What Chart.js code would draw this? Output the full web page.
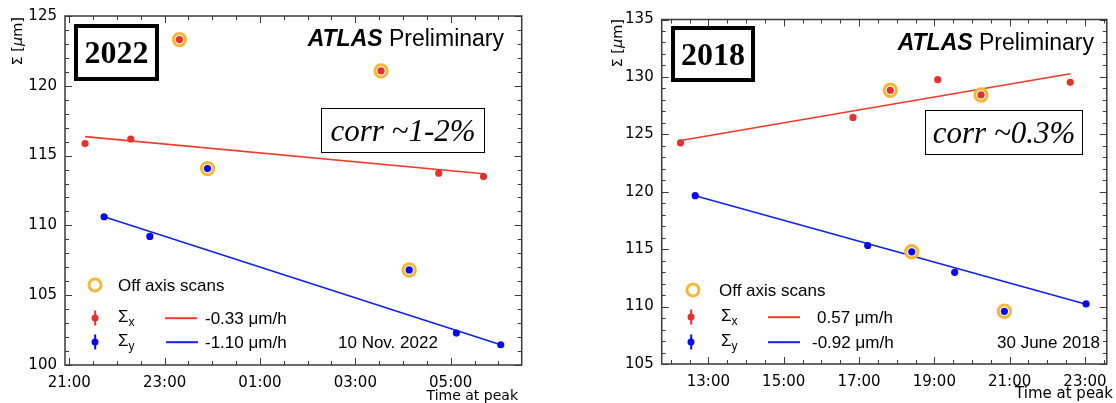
<!DOCTYPE html>
<html>
<head>
<meta charset="utf-8">
<script src="https://cdn.jsdelivr.net/npm/chart.js@4.4.1/dist/chart.umd.min.js"></script>
<style>
body { margin:0; background:#fff; width:1116px; height:403px; overflow:hidden; position:relative; font-family:"Liberation Sans", Arial, sans-serif; }
canvas { position:absolute; top:0; }
.t { position:absolute; white-space:nowrap; line-height:1; color:#000; transform:translateY(-50%); }
.r { transform:translate(-100%,-50%); }
.atlas { font-size:23px; }
.atlas b { font-style:italic; }
.ylab { position:absolute; white-space:nowrap; line-height:1; font-family:"DejaVu Sans", sans-serif; font-size:14.5px; transform-origin:0 0; transform:rotate(-90deg) translate(-100%,-50%); }
.xlab { font-family:"DejaVu Sans", sans-serif; font-size:14px; }
.year { position:absolute; box-sizing:border-box; border:4px solid #000; display:flex; align-items:center; justify-content:center; font-family:"Liberation Serif", serif; font-weight:bold; font-size:32px; }
.corr { position:absolute; box-sizing:border-box; border:1.5px solid #000; display:flex; align-items:center; justify-content:center; font-family:"Liberation Serif", serif; font-style:italic; font-size:31px; }
.leg { font-size:17px; }
.leg sub { font-size:12px; vertical-align:-4px; }
.ring { position:absolute; width:15px; height:15px; box-sizing:border-box; border:3px solid #f4b73a; border-radius:50%; transform:translate(-50%,-50%); }
.dot { position:absolute; width:7px; height:7px; border-radius:50%; transform:translate(-50%,-50%); }
.bar { position:absolute; width:1.6px; height:15px; transform:translate(-50%,-50%); }
.ln { position:absolute; height:1.6px; transform:translateY(-50%); }
</style>
</head>
<body>
<canvas id="c22" width="560" height="403" style="left:0"></canvas>
<canvas id="c18" width="556" height="403" style="left:560px"></canvas>

<!-- panneau 2022 -->
<div class="ylab" style="left:17px;top:17px">Σ [<i>μ</i>m]</div>
<div class="t r atlas" style="left:504px;top:38px"><b>ATLAS</b> Preliminary</div>
<div class="year" style="left:74px;top:24px;width:85px;height:57px">2022</div>
<div class="corr" style="left:321px;top:108px;width:164px;height:45px">corr ~1-2%</div>
<div class="ring" style="left:95px;top:285px"></div>
<div class="t leg" style="left:118px;top:285px">Off axis scans</div>
<div class="bar" style="left:95px;top:318px;background:#e8302a"></div>
<div class="dot" style="left:95px;top:318px;background:#e8302a"></div>
<div class="t leg" style="left:118px;top:318px">Σ<sub>x</sub></div>
<div class="ln" style="left:165px;top:318px;width:32px;background:#f03a2a"></div>
<div class="t leg" style="left:205px;top:318px">-0.33 μm/h</div>
<div class="bar" style="left:95px;top:342px;background:#0a0af0"></div>
<div class="dot" style="left:95px;top:342px;background:#0a0af0"></div>
<div class="t leg" style="left:118px;top:342px">Σ<sub>y</sub></div>
<div class="ln" style="left:166px;top:342px;width:32px;background:#1020f0"></div>
<div class="t leg" style="left:205px;top:342px">-1.10 μm/h</div>
<div class="t leg" style="left:338px;top:342px">10 Nov. 2022</div>
<div class="t r xlab" style="left:518px;top:395px">Time at peak</div>

<!-- panneau 2018 -->
<div class="ylab" style="left:617px;top:19px">Σ [<i>μ</i>m]</div>
<div class="t r atlas" style="left:1094px;top:42px"><b>ATLAS</b> Preliminary</div>
<div class="year" style="left:671px;top:26px;width:84px;height:56px">2018</div>
<div class="corr" style="left:925px;top:110px;width:158px;height:45px">corr ~0.3%</div>
<div class="ring" style="left:693px;top:290px"></div>
<div class="t leg" style="left:719px;top:290px">Off axis scans</div>
<div class="bar" style="left:691px;top:317px;background:#e8302a"></div>
<div class="dot" style="left:691px;top:317px;background:#e8302a"></div>
<div class="t leg" style="left:721px;top:317px">Σ<sub>x</sub></div>
<div class="ln" style="left:768px;top:317px;width:32px;background:#f03a2a"></div>
<div class="t leg" style="left:817px;top:317px">0.57 μm/h</div>
<div class="bar" style="left:691px;top:342px;background:#0a0af0"></div>
<div class="dot" style="left:691px;top:342px;background:#0a0af0"></div>
<div class="t leg" style="left:721px;top:342px">Σ<sub>y</sub></div>
<div class="ln" style="left:768px;top:342px;width:32px;background:#1020f0"></div>
<div class="t leg" style="left:812px;top:342px">-0.92 μm/h</div>
<div class="t leg" style="left:997px;top:342px">30 June 2018</div>
<div class="t r xlab" style="left:1113px;top:393px;font-size:15px">Time at peak</div>

<script>
// donnees 2022 (heures depuis minuit du 10 nov., 25 = 01:00)
const timeX22 = [21.33, 22.29, 23.31, 27.54, 28.75, 29.69];
const sigmaX22 = [115.86, 116.19, 123.31, 121.07, 113.74, 113.50];
const offX22 = [false, false, true, true, false, false];
const timeY22 = [21.73, 22.69, 23.90, 28.13, 29.12, 30.05];
const sigmaY22 = [110.62, 109.21, 114.07, 106.81, 102.29, 101.45];
const offY22 = [false, false, true, true, false, false];
const fitTimeX22 = [21.33, 29.69];
const fitX22 = [116.36, 113.70];
const fitTimeY22 = [21.73, 30.05];
const fitY22 = [110.62, 101.45];
const xTicks22 = [21, 23, 25, 27, 29];
const xLabels22 = ['21:00', '23:00', '01:00', '03:00', '05:00'];
const yTicks22 = [100, 105, 110, 115, 120, 125];

// donnees 2018
const timeX18 = [12.26, 16.84, 17.83, 19.09, 20.24, 22.61];
const sigmaX18 = [124.26, 126.47, 128.84, 129.76, 128.43, 129.53];
const offX18 = [false, false, true, false, true, false];
const timeY18 = [12.65, 17.23, 18.40, 19.54, 20.86, 23.03];
const sigmaY18 = [119.66, 115.32, 114.77, 112.98, 109.59, 110.23];
const offY18 = [false, false, true, false, true, false];
const fitTimeX18 = [12.26, 22.61];
const fitX18 = [124.47, 130.27];
const fitTimeY18 = [12.65, 23.03];
const fitY18 = [119.66, 110.20];
const xTicks18 = [13, 15, 17, 19, 21, 23];
const xLabels18 = ['13:00', '15:00', '17:00', '19:00', '21:00', '23:00'];
const yTicks18 = [105, 110, 115, 120, 125, 130, 135];

const RED = '#e8302a', BLUE = '#0a0af0', ORANGE = '#f4b73a';

function pts(t, v) { return t.map((x, i) => ({x: x, y: v[i]})); }
function offPts(t, v, f) { return pts(t, v).filter((p, i) => f[i]); }

// cadre + ticks vers l'interieur sur les 4 cotes
const frameTicks = {
    id: 'frameTicks',
    afterDraw(chart, args, o) {
        const ctx = chart.ctx, a = chart.chartArea;
        const sx = chart.scales.x, sy = chart.scales.y;
        ctx.save();
        ctx.strokeStyle = '#3a3a3a';
        ctx.lineWidth = 1;
        ctx.beginPath();
        const xt = (v, len) => {
            const p = Math.round(sx.getPixelForValue(v)) + 0.5;
            ctx.moveTo(p, a.bottom); ctx.lineTo(p, a.bottom - len);
            ctx.moveTo(p, a.top); ctx.lineTo(p, a.top + len);
        };
        const yt = (v, len) => {
            const p = Math.round(sy.getPixelForValue(v)) + 0.5;
            ctx.moveTo(a.left, p); ctx.lineTo(a.left + len, p);
            ctx.moveTo(a.right, p); ctx.lineTo(a.right - len, p);
        };
        for (let v = Math.ceil(sx.min * 2) / 2; v <= sx.max; v += 0.5) xt(v, o.xMajor.includes(v) ? 7 : 4);
        for (let v = Math.ceil(sy.min); v <= sy.max; v += 1) yt(v, o.yMajor.includes(v) ? 7 : 4);
        ctx.stroke();
        ctx.lineWidth = 1.5;
        ctx.strokeRect(a.left, a.top, a.right - a.left, a.bottom - a.top);
        ctx.restore();
    }
};

function makeChart(id, d) {
    const tickFont = {family: 'DejaVu Sans', size: 15};
    return new Chart(document.getElementById(id), {
        type: 'scatter',
        data: {
            datasets: [
                {data: pts(d.tx, d.sx), backgroundColor: RED, pointRadius: 3.6, borderWidth: 0, order: 0},
                {data: pts(d.ty, d.sy), backgroundColor: BLUE, pointRadius: 3.6, borderWidth: 0, order: 0},
                {data: offPts(d.tx, d.sx, d.ox).concat(offPts(d.ty, d.sy, d.oy)),
                    pointRadius: 6.2, borderWidth: 3, borderColor: ORANGE, backgroundColor: '#fff', order: 1},
                {data: pts(d.ftx, d.fx), showLine: true, borderColor: '#f03a2a', borderWidth: 1.6, pointRadius: 0, order: 2},
                {data: pts(d.fty, d.fy), showLine: true, borderColor: '#1020f0', borderWidth: 1.6, pointRadius: 0, order: 2}
            ]
        },
        options: {
            responsive: false,
            animation: false,
            layout: {padding: {left: 0, right: d.padRight, top: d.padTop, bottom: 0}},
            plugins: {
                legend: {display: false},
                tooltip: {enabled: false},
                frameTicks: {xMajor: d.xTicks, yMajor: d.yTicks}
            },
            scales: {
                x: {
                    type: 'linear', min: d.xMin, max: d.xMax,
                    grid: {display: false}, border: {display: false},
                    afterBuildTicks: s => { s.ticks = d.xTicks.map(v => ({value: v})); },
                    afterFit: s => { s.height = d.xHeight; },
                    ticks: {
                        font: tickFont, color: '#000', padding: 1, maxRotation: 0, autoSkip: false,
                        callback: v => d.xLabels[d.xTicks.indexOf(v)]
                    }
                },
                y: {
                    min: d.yMin, max: d.yMax,
                    grid: {display: false}, border: {display: false},
                    afterBuildTicks: s => { s.ticks = d.yTicks.map(v => ({value: v})); },
                    afterFit: s => { s.width = d.yWidth; },
                    ticks: {font: tickFont, color: '#000', padding: 0}
                }
            }
        },
        plugins: [frameTicks]
    });
}

makeChart('c22', {
    tx: timeX22, sx: sigmaX22, ox: offX22, ty: timeY22, sy: sigmaY22, oy: offY22,
    ftx: fitTimeX22, fx: fitX22, fty: fitTimeY22, fy: fitY22,
    xTicks: xTicks22, xLabels: xLabels22, yTicks: yTicks22,
    xMin: 20.91, xMax: 30.49, yMin: 100, yMax: 125,
    padRight: 38.3, padTop: 16, xHeight: 38, yWidth: 65
});
makeChart('c18', {
    tx: timeX18, sx: sigmaX18, ox: offX18, ty: timeY18, sy: sigmaY18, oy: offY18,
    ftx: fitTimeX18, fx: fitX18, fty: fitTimeY18, fy: fitY18,
    xTicks: xTicks18, xLabels: xLabels18, yTicks: yTicks18,
    xMin: 11.76, xMax: 23.58, yMin: 105, yMax: 135,
    padRight: 2.7, padTop: 19.5, xHeight: 39, yWidth: 101.7
});
</script>
</body>
</html>
